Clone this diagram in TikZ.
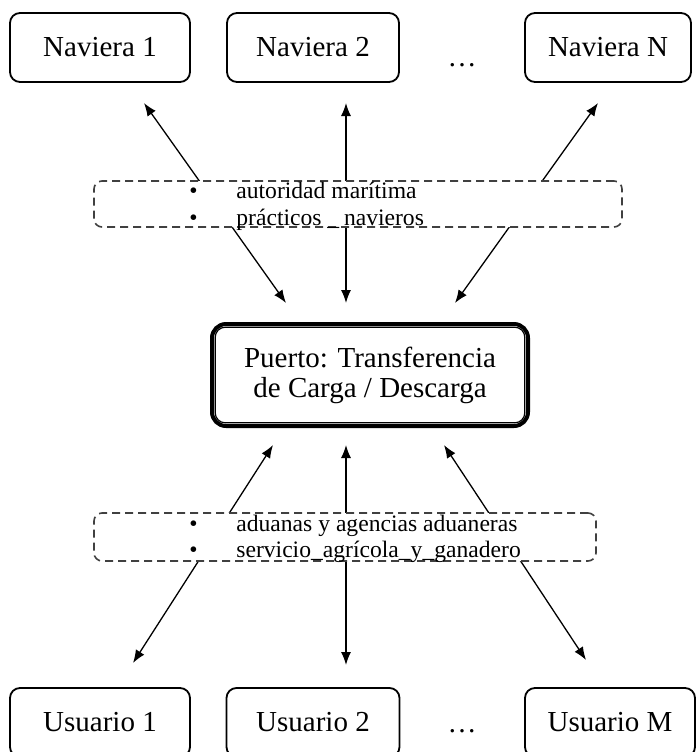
\documentclass[tikz,border=0pt]{standalone}
\usepackage{fontspec}
\setmainfont{Liberation Serif}
\usetikzlibrary{arrows.meta, positioning}

\tikzset{
    entity/.style={draw=black, line width=0.9pt, rounded corners=5pt, minimum height=34.5pt, inner sep=0pt, font=\fontsize{14.5}{17}\selectfont},
    agents/.style={draw=black!75, dash pattern=on 4pt off 2.5pt, line width=0.8pt, rounded corners=4pt, fill=white, inner sep=0pt},
    item/.style={anchor=base west, inner sep=0pt, font=\fontsize{11.8}{13}\selectfont},
    link/.style={{Latex[length=6.5pt,width=5pt]}-{Latex[length=6.5pt,width=5pt]}, line width=0.65pt},
    ellip/.style={anchor=base, inner sep=0pt, font=\fontsize{14.5}{17}\selectfont}
}

\begin{document}
\begin{tikzpicture}[x=0.5pt, y=-0.5pt]
            \useasboundingbox (0,0) rectangle (696,752);

            % navieras
            \node[entity, minimum width=90pt] (nav1) at (100,47.5) {Naviera 1};
            \node[entity, minimum width=86pt] (nav2) at (313,47.5) {Naviera 2};
            \node[ellip] (navdots) at (462,66) {\dots};
            \node[entity, minimum width=83pt] (navN) at (608,47.5) {Naviera N};

            % puerto
            \node[draw=black, line width=2pt, rounded corners=7pt, minimum width=158pt, minimum height=51pt,
                  align=center, font=\fontsize{14.5}{15}\selectfont] (port) at (370,375) {
                Puerto: Transferencia \\ de Carga / Descarga
            };
            \draw[line width=0.6pt, rounded corners=5pt]
                ([shift={(2.6pt,-2.6pt)}]port.north west) rectangle ([shift={(-2.6pt,2.6pt)}]port.south east);

            % usuarios
            \node[entity, minimum width=90pt] (usr1) at (100,722.5) {Usuario 1};
            \node[entity, minimum width=86.5pt] (usr2) at (313,722.5) {Usuario 2};
            \node[ellip] (usrdots) at (462,732) {\dots};
            \node[entity, minimum width=85pt] (usrM) at (610,722.5) {Usuario M};

            % extremos de las flechas
            \coordinate (nav1tip) at (144,103);
            \coordinate (nav2tip) at (346,103);
            \coordinate (navNtip) at (598,103);
            \coordinate (portnw) at (286,303);
            \coordinate (portn) at (346,303);
            \coordinate (portne) at (455,303);
            \coordinate (portsw) at (273,445);
            \coordinate (ports) at (346,445);
            \coordinate (portse) at (444,445);
            \coordinate (usr1tip) at (133,663);
            \coordinate (usr2tip) at (346,665);
            \coordinate (usrMtip) at (586,660);

            \draw[link] (nav1tip) -- (portnw);
            \draw[link] (nav2tip) -- (portn);
            \draw[link] (navNtip) -- (portne);
            \draw[link] (portsw) -- (usr1tip);
            \draw[link] (ports) -- (usr2tip);
            \draw[link] (portse) -- (usrMtip);

            % agentes intermedios
            \node[agents, minimum width=264pt, minimum height=23pt] (maritimo) at (358,204) {};
            \node[item] (autor1) at (189,198) {\makebox[23.5pt][l]{\textbullet}autoridad marítima};
            \node[item] (autor2) at (189,225) {\makebox[23.5pt][l]{\textbullet}prácticos\hspace{0.25em}\_\hspace{0.2em}navieros};

            \node[agents, minimum width=251pt, minimum height=24pt] (aduanero) at (345,537) {};
            \node[item] (aduana1) at (189,531) {\makebox[23.5pt][l]{\textbullet}aduanas y agencias aduaneras};
            \node[item] (aduana2) at (189,557) {\makebox[23.5pt][l]{\textbullet}servicio\_agrícola\_y\_ganadero};
        \end{tikzpicture}
\end{document}
